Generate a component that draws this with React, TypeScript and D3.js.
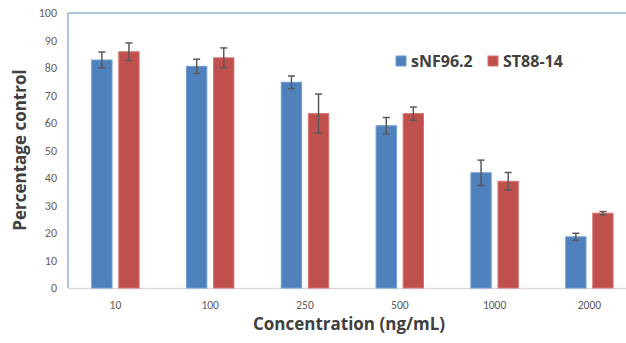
import * as d3 from 'd3'
import { useEffect, useRef } from 'react'

const categories = ['10', '100', '250', '500', '1000', '2000']
const seriesNames = ['sNF96.2', 'ST88-14']
const sNF96 = [82.9, 80.6, 74.8, 59.0, 41.9, 18.6]
const sNF96Err = [2.9, 2.6, 2.3, 3.0, 4.6, 1.3]
const st88 = [85.9, 83.7, 63.4, 63.4, 38.8, 27.2]
const st88Err = [3.2, 3.6, 7.1, 2.4, 3.2, 0.6]
const yTicks = [0, 10, 20, 30, 40, 50, 60, 70, 80, 90, 100]
const colors = ['#4F81BD', '#C0504D']
const strokes = ['#6f9bd1', '#d9706c']

const FONT = 'Calibri, Carlito, Lato, "Open Sans", sans-serif'
const BOLD = '"Open Sans", sans-serif'

export default function App() {
  const ref = useRef<SVGSVGElement | null>(null)

  useEffect(() => {
    document.body.style.margin = '0'
    if (!ref.current) return
    const svg = d3.select(ref.current)
    svg.selectAll('*').remove()
    const width = 626
    const height = 343
    const left = 68, top = 13, bottom = 288
    const bandW = 94.8

    const x = d3.scaleBand<string>().domain(categories).range([left, left + bandW * categories.length]).padding(0)
    const inner = d3.scaleBand<string>().domain(seriesNames)
      .range([x.bandwidth() * 0.25, x.bandwidth() * 0.75]).paddingInner(0.25)
    const y = d3.scaleLinear().domain([0, 100]).range([bottom, top])

    svg.attr('width', width).attr('height', height).attr('viewBox', `0 0 ${width} ${height}`)
    svg.append('rect').attr('width', width).attr('height', height).attr('fill', '#fff')

    // frame lines
    svg.append('line').attr('x1', left).attr('x2', width).attr('y1', top).attr('y2', top)
      .attr('stroke', '#95b3d7').attr('stroke-width', 1.5)
    svg.append('line').attr('x1', left).attr('x2', left).attr('y1', top).attr('y2', bottom)
      .attr('stroke', '#95b3d7').attr('stroke-width', 1.5)
    svg.append('line').attr('x1', left).attr('x2', width).attr('y1', bottom + 0.5).attr('y2', bottom + 0.5)
      .attr('stroke', '#d9d9d9').attr('stroke-width', 1.5)

    // y tick labels
    svg.append('g').selectAll('text').data(yTicks).join('text')
      .attr('x', 57).attr('y', d => y(d) + 4)
      .attr('text-anchor', 'end').attr('font-family', FONT).attr('font-size', 12)
      .attr('fill', '#6b6055').text(d => d)

    // x tick labels
    svg.append('g').selectAll('text').data(categories).join('text')
      .attr('x', d => (x(d) ?? 0) + x.bandwidth() / 2).attr('y', 309)
      .attr('text-anchor', 'middle').attr('font-family', FONT).attr('font-size', 11.5)
      .attr('fill', '#595959').text(d => d)

    const data = [
      { name: seriesNames[0], vals: sNF96, errs: sNF96Err },
      { name: seriesNames[1], vals: st88, errs: st88Err },
    ]

    data.forEach((s, si) => {
      const g = svg.append('g')
      categories.forEach((c, i) => {
        const bx = (x(c) ?? 0) + (inner(s.name) ?? 0)
        const bw = inner.bandwidth()
        const v = s.vals[i]
        g.append('rect')
          .attr('x', bx).attr('y', y(v)).attr('width', bw).attr('height', y(0) - y(v))
          .attr('fill', colors[si]).attr('stroke', strokes[si]).attr('stroke-width', 1)
        const cx = bx + bw / 2
        const e = s.errs[i]
        const eg = g.append('g').attr('stroke', '#595959').attr('stroke-width', 1.5)
        eg.append('line').attr('x1', cx).attr('x2', cx).attr('y1', y(v + e)).attr('y2', y(v - e))
        eg.append('line').attr('x1', cx - 3.5).attr('x2', cx + 3.5).attr('y1', y(v + e)).attr('y2', y(v + e))
        eg.append('line').attr('x1', cx - 3.5).attr('x2', cx + 3.5).attr('y1', y(v - e)).attr('y2', y(v - e))
      })
    })

    // legend
    const legendX = [396, 488]
    seriesNames.forEach((n, i) => {
      svg.append('rect').attr('x', legendX[i]).attr('y', 56).attr('width', 10).attr('height', 10)
        .attr('fill', colors[i]).attr('stroke', strokes[i])
      svg.append('text').attr('x', legendX[i] + 15).attr('y', 67)
        .attr('font-family', BOLD).attr('font-size', 16).attr('font-weight', 'bold')
        .attr('fill', '#404040').text(n)
    })

    // axis titles
    svg.append('text').attr('x', 349).attr('y', 330).attr('text-anchor', 'middle')
      .attr('font-family', BOLD).attr('font-size', 17).attr('font-weight', 'bold')
      .attr('fill', '#404040').text('Concentration (ng/mL)')
    svg.append('text').attr('transform', 'translate(26,150) rotate(-90)').attr('text-anchor', 'middle')
      .attr('font-family', BOLD).attr('font-size', 17).attr('font-weight', 'bold')
      .attr('fill', '#404040').text('Percentage control')
  }, [])

  return <svg ref={ref} style={{ display: 'block' }} />
}
